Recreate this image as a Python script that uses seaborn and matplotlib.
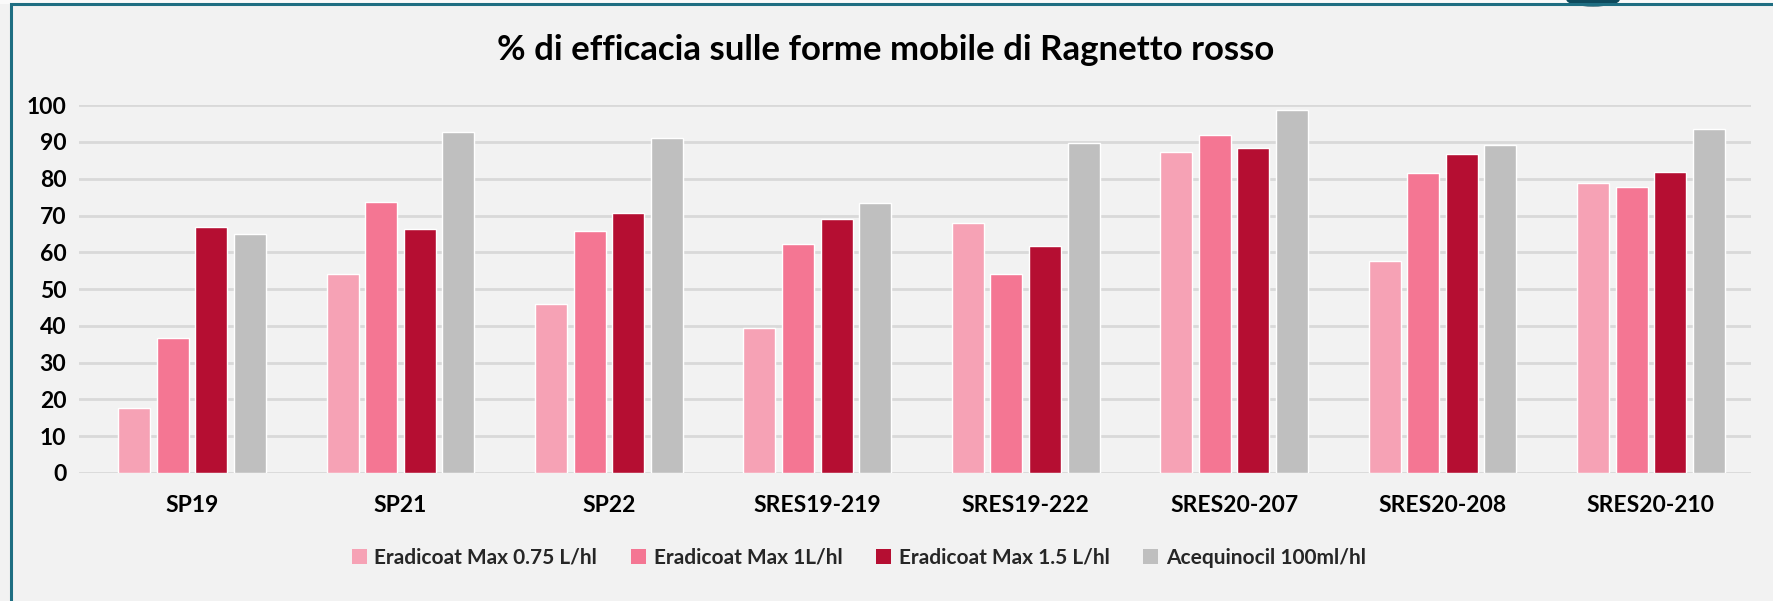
import numpy as np
import pandas as pd
import matplotlib
matplotlib.use('Agg')
import matplotlib.pyplot as plt
import seaborn as sns
from matplotlib.patches import Rectangle, Ellipse

categories = ['SP19', 'SP21', 'SP22', 'SRES19-219', 'SRES19-222',
              'SRES20-207', 'SRES20-208', 'SRES20-210']
series_names = ['Eradicoat Max 0.75 L/hl', 'Eradicoat Max 1L/hl',
                'Eradicoat Max 1.5 L/hl', 'Acequinocil 100ml/hl']
erad_075 = [17.8, 54.0, 46.0, 39.3, 68.0, 87.2, 57.6, 78.9]
erad_1 = [36.7, 73.8, 65.9, 62.3, 54.0, 92.0, 81.5, 77.8]
erad_15 = [67.0, 66.3, 70.6, 69.0, 61.6, 88.4, 86.6, 81.9]
acequinocil = [64.9, 92.7, 91.0, 73.5, 89.6, 98.8, 89.1, 93.4]
colors = ['#F6A2B5', '#F47693', '#B50E32', '#BFBFBF']
yticks = list(range(0, 101, 10))
title = '% di efficacia sulle forme mobile di Ragnetto rosso'

df = pd.DataFrame({
    'categoria': categories * 4,
    'serie': sum([[s] * len(categories) for s in series_names], []),
    'valore': erad_075 + erad_1 + erad_15 + acequinocil,
})

sns.set_theme(style='white')
plt.rcParams['font.family'] = ['Lato', 'DejaVu Sans']
plt.rcParams['font.weight'] = 'bold'

bg = '#F2F2F2'
fig = plt.figure(figsize=(17.74, 6.01), dpi=100, facecolor=bg)
ax = fig.add_axes([0.0445, 0.213, 0.9425, 0.612])
ax.set_facecolor(bg)

sns.barplot(data=df, x='categoria', y='valore', hue='serie',
            hue_order=series_names, palette=colors, width=0.74, gap=0.17,
            saturation=1, ax=ax, legend=False)

ax.set_ylim(0, 100)
ax.set_xlim(-0.543, len(categories) - 0.52)
ax.set_yticks(yticks)
ax.yaxis.grid(True, color='#D9D9D9', linewidth=2)
ax.set_axisbelow(True)
for s in ax.spines.values():
    s.set_visible(False)
ax.set_xlabel('')
ax.set_ylabel('')
ax.tick_params(axis='both', length=0, labelsize=16.5)
ax.tick_params(axis='x', pad=16)
ax.tick_params(axis='y', pad=9)
for lbl in ax.get_xticklabels() + ax.get_yticklabels():
    lbl.set_fontweight('bold')
    lbl.set_color('#000000')

fig.text(0.499, 0.917, title, ha='center', va='center',
         fontsize=25, fontweight='bold', color='#000000')

handles = [Rectangle((0, 0), 1, 1, facecolor=c, edgecolor='none') for c in colors]
leg = fig.legend(handles, series_names, loc='center', bbox_to_anchor=(0.484, 0.072),
                 ncol=4, frameon=False, fontsize=15, handlelength=0.75,
                 handleheight=0.75, handletextpad=0.35, columnspacing=1.6)
for t in leg.get_texts():
    t.set_fontweight('bold')

# striscia chiara in alto + cornice + pezzo del logo
fig.patches.append(Rectangle((0, 0.994), 1, 0.01, transform=fig.transFigure,
                             facecolor='#FAFAFA', edgecolor='none'))
fig.patches.append(Ellipse((0.898, 1.0), 0.03, 0.022, transform=fig.transFigure,
                           facecolor='#0E4A5C', edgecolor='none'))
fig.patches.append(Rectangle((0.006, -0.01), 1.2, 1.004, transform=fig.transFigure,
                             fill=False, edgecolor='#1F6E82', linewidth=2.2))

fig.savefig('out.png', dpi=100, facecolor=bg)
